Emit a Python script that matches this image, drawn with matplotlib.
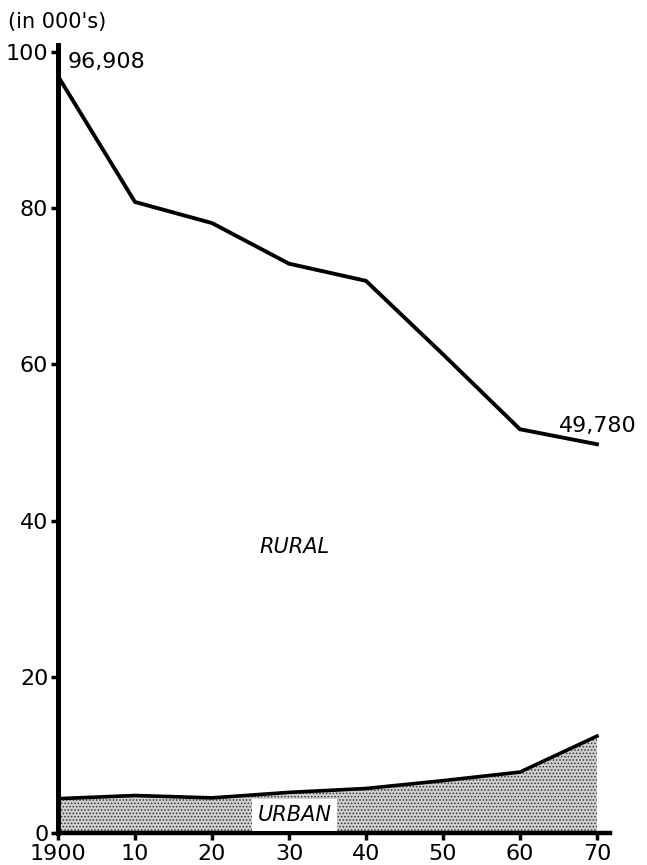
import matplotlib
matplotlib.use("Agg")
import matplotlib.pyplot as plt

years = [1900, 1910, 1920, 1930, 1940, 1950, 1960, 1970]
rural = [96.908, 80.8, 78.1, 72.9, 70.7, 61.3, 51.7, 49.78]
urban = [4.4, 4.8, 4.5, 5.2, 5.7, 6.7, 7.8, 12.4]
xtick_labels = ["1900", "10", "20", "30", "40", "50", "60", "70"]
yticks = [0, 20, 40, 60, 80, 100]

plt.rcParams['font.family'] = ['DejaVu Sans']
plt.rcParams['hatch.linewidth'] = 0.7
plt.rcParams['hatch.color'] = '#333333'

fig = plt.figure(figsize=(6.47, 8.65), dpi=100)
ax = fig.add_axes([58/647, 32/865, (610-58)/647, (833-45)/865])

ax.fill_between(years, 0, urban, facecolor='#cfcfcf', hatch='.....',
                edgecolor='#333333', linewidth=0)
ax.plot(years, urban, color='black', lw=2.6, solid_joinstyle='miter')
ax.plot(years, rural, color='black', lw=2.8, solid_joinstyle='miter')

ax.set_xlim(1900, 1971.7)
ax.set_ylim(0, 100.9)
ax.set_xticks(years)
ax.set_xticklabels(xtick_labels)
ax.set_yticks(yticks)
ax.set_yticklabels([str(v) for v in yticks])

for s in ['top', 'right']:
    ax.spines[s].set_visible(False)
ax.spines['left'].set_linewidth(3.6)
ax.spines['bottom'].set_linewidth(3.2)
ax.tick_params(axis='both', direction='out', length=5, width=2.5,
               labelsize=16, pad=2)
ax.tick_params(axis='x', pad=3)

ax.text(1901.3, 98.7, "96,908", fontsize=16, ha='left', va='center')
ax.text(1975.2, 52.1, "49,780", fontsize=16, ha='right', va='center')
ax.text(1930.7, 36.6, "RURAL", fontsize=15, style='italic', ha='center', va='center')
ax.text(1930.7, 2.3, "URBAN", fontsize=15, style='italic', ha='center', va='center',
        bbox=dict(facecolor='white', edgecolor='none', pad=4))
fig.text(8/647, 1 - 22/865, "(in 000's)", fontsize=15, ha='left', va='center')

fig.savefig("out.png", dpi=100)
